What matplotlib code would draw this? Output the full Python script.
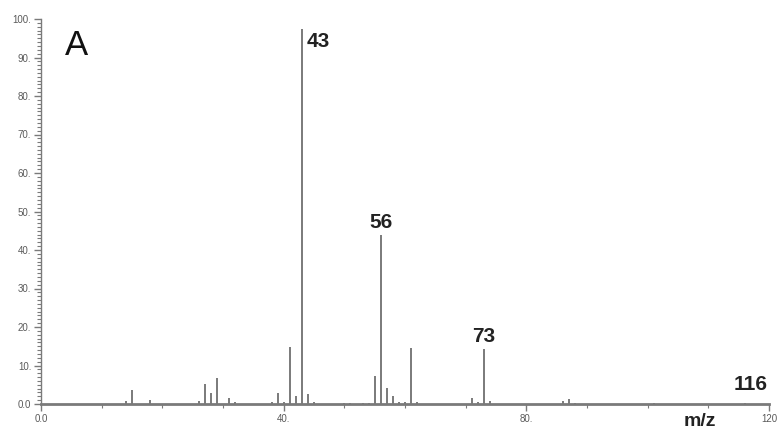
import matplotlib.pyplot as plt
from matplotlib.ticker import MultipleLocator, FixedLocator

# mass spectrum peaks (m/z, relative intensity)
mz = [14, 15, 18, 26, 27, 28, 29, 31, 32, 38, 39, 40, 41, 42, 43, 44, 45,
      50, 51, 53, 54, 55, 56, 57, 58, 59, 60, 61, 62,
      71, 72, 73, 74, 86, 87, 88, 101, 116]
intensity = [0.7, 3.7, 1.0, 0.7, 5.1, 2.8, 6.7, 1.6, 0.6, 0.4, 2.8, 0.6, 14.7, 2.1, 97.5, 2.6, 0.6,
             0.3, 0.3, 0.3, 0.3, 7.4, 44.0, 4.2, 2.1, 0.6, 0.5, 14.5, 0.4,
             1.6, 0.6, 14.2, 0.7, 0.7, 1.2, 0.3, 0.3, 0.3]
labelled = [43, 56, 73, 116]

ytick_vals = [0, 10, 20, 30, 40, 50, 60, 70, 80, 90, 100]
ytick_text = ["0.0", "10.", "20.", "30.", "40.", "50.", "60.", "70.", "80.", "90.", "100."]
xtick_vals = [0, 40, 80, 120]
xtick_text = ["0.0", "40.", "80.", "120"]

grey = "#7a7a7a"

fig = plt.figure(figsize=(7.77, 4.28), dpi=100)
ax = fig.add_axes([41 / 777, 1 - 404 / 428, 728 / 777, 385 / 428])

ax.vlines(mz, 0, intensity, colors=grey, linewidth=1.4)

ax.set_xlim(0, 120)
ax.set_ylim(0, 100)
for s in ["top", "right"]:
    ax.spines[s].set_visible(False)
ax.spines["left"].set_color(grey)
ax.spines["left"].set_linewidth(1.0)
ax.spines["bottom"].set_color(grey)
ax.spines["bottom"].set_linewidth(2.0)

ax.yaxis.set_major_locator(FixedLocator(ytick_vals))
ax.set_yticklabels(ytick_text)
ax.yaxis.set_minor_locator(MultipleLocator(1))
ax.xaxis.set_major_locator(FixedLocator(xtick_vals))
ax.set_xticklabels(xtick_text)
ax.xaxis.set_minor_locator(MultipleLocator(10))

ax.tick_params(axis="both", which="major", direction="out", length=5, width=1,
               color=grey, labelcolor="#5a5a5a", labelsize=7, pad=2)
ax.tick_params(axis="both", which="minor", direction="out", length=3, width=0.8, color=grey)
for lab in ax.get_xticklabels() + ax.get_yticklabels():
    lab.set_fontfamily("Liberation Sans")

# peak labels
for m in labelled:
    h = intensity[mz.index(m)]
    if m == 43:
        ax.text(m + 0.8, h - 1, str(m), ha="left", va="top", fontsize=15,
                fontweight="bold", color="#222222", family="Liberation Sans")
    elif m == 116:
        ax.text(119.8, 2.5, str(m), ha="right", va="bottom", fontsize=15,
                fontweight="bold", color="#222222", family="Liberation Sans")
    else:
        ax.text(m, h + 0.8, str(m), ha="center", va="bottom", fontsize=15,
                fontweight="bold", color="#222222", family="Liberation Sans")

ax.text(4, 93, "A", ha="left", va="center", fontsize=25, color="#111111",
        family="Liberation Sans")
fig.text(700 / 777, 1 - 421 / 428, "m/z", ha="center", va="center", fontsize=14,
         fontweight="bold", color="#222222", family="Liberation Sans")

fig.savefig("out.png", dpi=100)
